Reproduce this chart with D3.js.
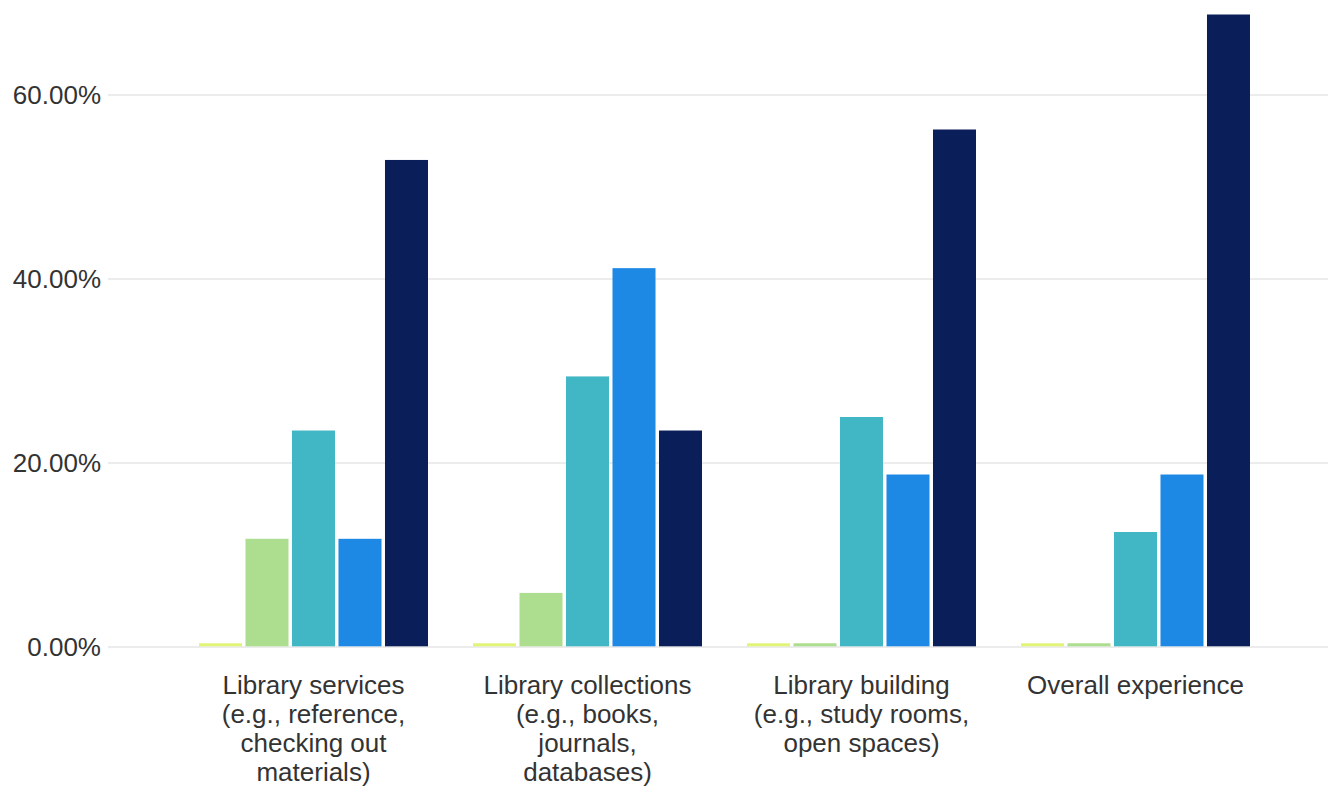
<!DOCTYPE html>
<html>
<head>
<meta charset="utf-8">
<script src="https://cdn.jsdelivr.net/npm/d3@7/dist/d3.min.js"></script>
<style>
  html, body { margin: 0; padding: 0; background: #fff; }
  svg { display: block; font-family: "Liberation Sans", Arial, Helvetica, sans-serif; }
</style>
</head>
<body>
<svg id="chart" width="1328" height="787"></svg>
<script>
const categories = [
  ["Library services", "(e.g., reference,", "checking out", "materials)"],
  ["Library collections", "(e.g., books,", "journals,", "databases)"],
  ["Library building", "(e.g., study rooms,", "open spaces)"],
  ["Overall experience"]
];
const seriesNames = ["s1", "s2", "s3", "s4", "s5"];
const seriesColors = ["#e1f475", "#addd8e", "#41b6c4", "#1e88e5", "#0a1f5a"];
const s1 = [0, 0, 0, 0];
const s2 = [11.76, 5.88, 0, 0];
const s3 = [23.53, 29.41, 25.00, 12.50];
const s4 = [11.76, 41.18, 18.75, 18.75];
const s5 = [52.94, 23.53, 56.25, 68.75];
const yTicks = [0, 20, 40, 60];

const seriesValues = [s1, s2, s3, s4, s5];
const svg = d3.select("#chart");

const x0 = d3.scaleBand().domain(d3.range(categories.length)).range([176.5, 1272.5]).padding(0);
const x1 = d3.scaleBand().domain(seriesNames).range([22.5, 251.5]).paddingInner(0.075);
const y = d3.scaleLinear().domain([0, 70]).range([647, 3]);

// gridlines
svg.append("g").selectAll("line").data(yTicks).join("line")
  .attr("x1", 108).attr("x2", 1328)
  .attr("y1", d => y(d)).attr("y2", d => y(d))
  .attr("stroke", "#e6e6e6").attr("stroke-width", 1.5);

// y labels
const yAxis = d3.axisLeft(y).tickValues(yTicks).tickSize(0).tickPadding(0)
  .tickFormat(d => d3.format(".2f")(d) + "%");
const yg = svg.append("g").attr("transform", "translate(101,0)").call(yAxis);
yg.select(".domain").remove();
yg.selectAll("text").attr("font-size", 26).attr("fill", "#333")
  .attr("font-family", "'Liberation Sans', Arial, sans-serif");

// bars
const groups = svg.append("g").selectAll("g").data(categories).join("g")
  .attr("transform", (d, i) => `translate(${x0(i)},0)`);
groups.selectAll("rect").data((d, i) => seriesNames.map((s, k) => ({ s, k, v: seriesValues[k][i] })))
  .join("rect")
  .attr("x", d => x1(d.s))
  .attr("width", x1.bandwidth())
  .attr("y", d => Math.min(y(d.v), y(0) - 3.7) )
  .attr("height", d => Math.max(y(0) - y(d.v), 3.7) - 0.7)
  .attr("fill", d => seriesColors[d.k]);

// x labels
const xl = svg.append("g").selectAll("text").data(categories).join("text")
  .attr("x", (d, i) => x0(i) + x0.bandwidth() / 2)
  .attr("y", 694)
  .attr("text-anchor", "middle")
  .attr("font-size", 26)
  .attr("fill", "#333");
xl.selectAll("tspan").data(d => d).join("tspan")
  .attr("x", function () { return d3.select(this.parentNode).attr("x"); })
  .attr("dy", (d, i) => i === 0 ? 0 : 29)
  .text(d => d);
</script>
</body>
</html>
